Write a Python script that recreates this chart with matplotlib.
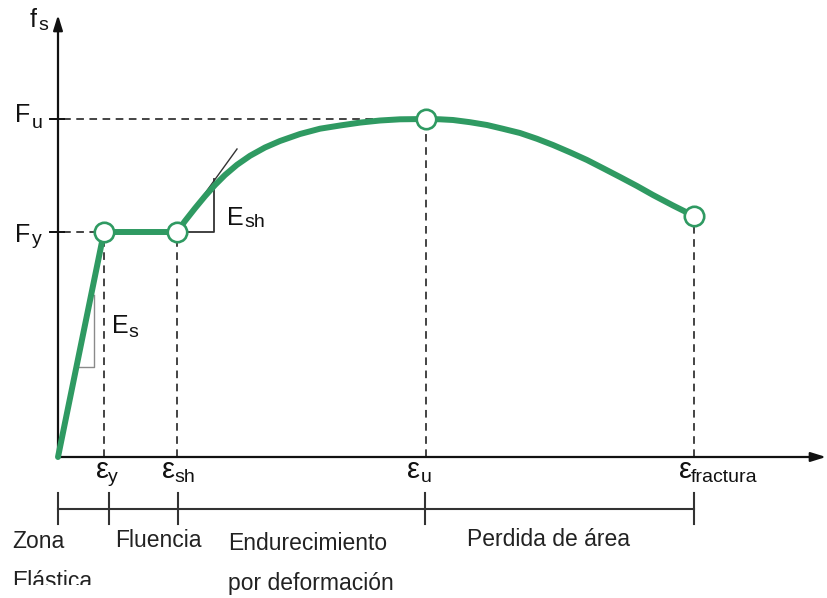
import matplotlib
matplotlib.use("Agg")
import matplotlib.pyplot as plt
from matplotlib.patches import Rectangle

plt.rcParams['font.family'] = ['Liberation Sans', 'DejaVu Sans']

# Idealised steel stress-strain curve (schematic units)
eps_y, eps_sh, eps_u, eps_fr = 0.46, 1.19, 3.68, 6.36
F_y, F_u, f_fr = 2.25, 3.38, 2.41

# Elastic branch and yield plateau
elastic_eps = [0.0, eps_y]
elastic_f = [0.0, F_y]
plateau_eps = [eps_y, eps_sh]
plateau_f = [F_y, F_y]

# Strain hardening up to the ultimate stress
hard_eps = [1.19, 1.27, 1.37, 1.47, 1.57, 1.67, 1.79, 1.92, 2.07, 2.22,
            2.42, 2.62, 2.82, 3.02, 3.22, 3.42, 3.68]
hard_f = [2.25, 2.36, 2.487, 2.608, 2.72, 2.82, 2.922, 3.012, 3.095, 3.16,
          3.23, 3.283, 3.315, 3.344, 3.365, 3.377, 3.38]
# Necking down to fracture
neck_eps = [3.68, 3.82, 3.95, 4.12, 4.29, 4.45, 4.62, 4.79, 4.95, 5.12,
            5.29, 5.45, 5.62, 5.79, 5.95, 6.15, 6.36]
neck_f = [3.38, 3.377, 3.37, 3.348, 3.32, 3.282, 3.24, 3.182, 3.12, 3.047,
          2.97, 2.888, 2.80, 2.71, 2.62, 2.515, 2.41]

# Zone boundaries along the strain axis
zone_edges = [0.0, 0.51, 1.20, 3.67, 6.36]

GREEN = '#2f9a62'
INK = '#111111'

fig = plt.figure(figsize=(8.28, 5.98), dpi=100)
ax = fig.add_axes([0, 0, 1, 1])
ax.set_xlim(-0.58, 7.70)
ax.set_ylim(-1.41, 4.57)
ax.axis('off')

# Axes with arrow heads
arrow = dict(arrowstyle='-|>,head_length=0.9,head_width=0.28', lw=1.6,
             color=INK, shrinkA=0, shrinkB=0)
ax.annotate('', xy=(0, 4.42), xytext=(0, 0), arrowprops=arrow)
ax.annotate('', xy=(7.68, 0), xytext=(0, 0), arrowprops=arrow)

# Dashed guides
dash = dict(color=INK, lw=1.1, ls=(0, (5, 3.6)))
ax.plot([-0.08, eps_u], [F_u, F_u], **dash)
ax.plot([-0.08, eps_y], [F_y, F_y], **dash)
for e, f in [(eps_y, F_y), (eps_sh, F_y), (eps_u, F_u), (eps_fr, f_fr)]:
    ax.plot([e, e], [0, f], **dash)
# short ticks on the stress axis
for f in (F_u, F_y):
    ax.plot([-0.08, 0.06], [f, f], color=INK, lw=1.4)

# Slope triangles
ax.plot([0.20, 0.36, 0.36], [0.90, 0.90, 1.62], color='#8a8a8a', lw=1.0)
ax.plot([eps_sh, 1.79], [F_y, 3.08], color='#333333', lw=1.0)
ax.plot([eps_sh, 1.56, 1.56], [F_y, F_y, 2.78], color='#333333', lw=1.3)

# Stress-strain curve
curve_kw = dict(color=GREEN, lw=4.3, solid_capstyle='round',
                solid_joinstyle='round', zorder=3)
ax.plot(elastic_eps, elastic_f, **curve_kw)
ax.plot(plateau_eps, plateau_f, **curve_kw)
ax.plot(hard_eps, hard_f, **curve_kw)
ax.plot(neck_eps, neck_f, **curve_kw)
ax.plot([eps_y, eps_sh, eps_u, eps_fr], [F_y, F_y, F_u, f_fr], ls='none',
        marker='o', ms=14, mfc='white', mec=GREEN, mew=1.9, zorder=4)

# Zone bar
bar_y, tick_lo, tick_hi = -0.52, -0.36, -0.67
ax.plot([zone_edges[0], zone_edges[-1]], [bar_y, bar_y], color='#333333', lw=1.5)
for e in zone_edges:
    ax.plot([e, e], [tick_lo, tick_hi], color='#333333', lw=1.5)

# Symbols with subscripts
MAIN, SUB = 18, 14


def symbol(x, y, main, sx, sy, sub, size=MAIN):
    ax.text(x, y, main, fontsize=size, color=INK, va='baseline', ha='left')
    ax.text(sx, sy, sub, fontsize=SUB, color=INK, va='baseline', ha='left')


symbol(-0.28, 4.30, 'f', -0.20, 4.27, 's')
symbol(-0.43, 3.35, 'F', -0.26, 3.29, 'u')
symbol(-0.43, 2.15, 'F', -0.26, 2.13, 'y')
symbol(1.69, 2.32, 'E', 1.86, 2.30, 'sh')
symbol(0.54, 1.24, 'E', 0.70, 1.20, 's')
symbol(0.38, -0.21, 'ε', 0.50, -0.25, 'y', size=21)
symbol(1.04, -0.21, 'ε', 1.16, -0.25, 'sh', size=21)
symbol(3.49, -0.21, 'ε', 3.63, -0.25, 'u', size=21)
symbol(6.21, -0.21, 'ε', 6.33, -0.25, 'fractura', size=21)

# Zone names
LAB = 16.5
ax.text(-0.46, -0.91, 'Zona', fontsize=LAB, color='#222222', va='baseline')
ax.text(-0.46, -1.31, 'Elástica', fontsize=LAB, color='#222222',
        va='baseline')
# the lower edge of this label is cut off by a white strip
ax.add_patch(Rectangle((-0.58, -1.50), 1.6, 0.22, facecolor='white',
                       edgecolor='none', zorder=5))
ax.text(0.57, -0.90, 'Fluencia', fontsize=LAB, color='#222222', va='baseline')
ax.text(1.70, -0.93, 'Endurecimiento', fontsize=LAB, color='#222222',
        va='baseline')
ax.text(1.70, -1.33, 'por deformación', fontsize=LAB, color='#222222',
        va='baseline')
ax.text(4.09, -0.89, 'Perdida de área', fontsize=LAB, color='#222222',
        va='baseline')

fig.savefig('out.png', dpi=100, facecolor='white')
